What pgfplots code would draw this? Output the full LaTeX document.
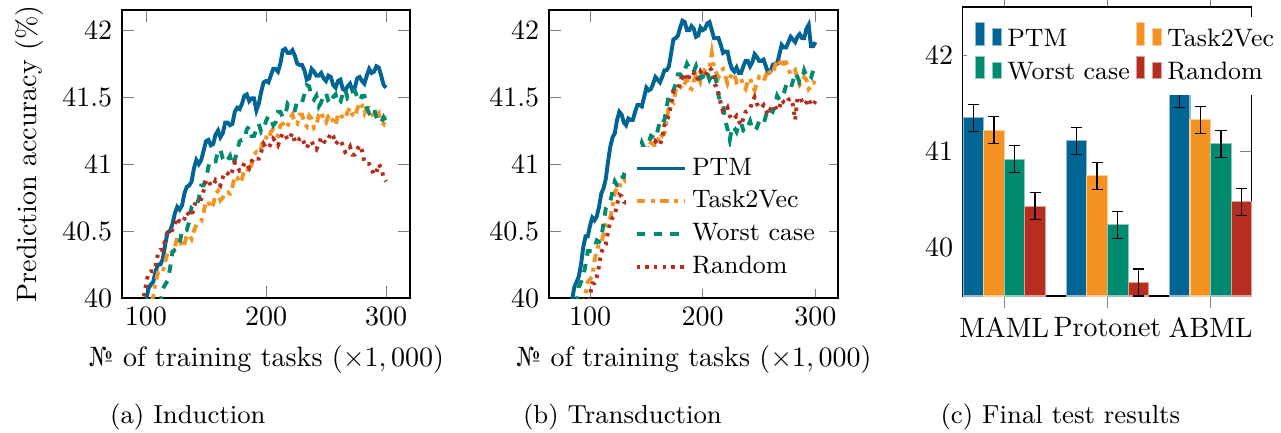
\documentclass[border=0pt]{standalone}
\usepackage{fontspec}
\usepackage{pgfplots}
\pgfplotsset{compat=1.18}

\definecolor{cPTM}{RGB}{0,101,148}
\definecolor{cTV}{RGB}{244,147,33}
\definecolor{cWorst}{RGB}{0,138,112}
\definecolor{cRand}{RGB}{182,46,31}

\pgfplotsset{
  curveax/.style={
    scale only axis, anchor=south west,
    width=103pt, height=102.86pt,
    ymin=40, ymax=42.15, xmax=320,
    ytick={40,40.5,41,41.5,42}, xtick={100,200,300},
    major tick style={gray},
    xlabel={№ of training tasks ($\times 1,000$)},
  },
  ptm/.style={cPTM, line width=1.4pt, solid, mark=none},
  tv/.style={cTV, line width=1.4pt, dashdotted, mark=none},
  worst/.style={cWorst, line width=1.4pt, dashed, mark=none},
  rand/.style={cRand, line width=1.4pt, dash pattern=on 1.2pt off 1.9pt, mark=none},
}

\begin{document}
\begin{tikzpicture}

% (a) Induction
\begin{axis}[curveax, at={(43.57pt,47.85pt)}, width=102.86pt, xmin=80,
  ylabel={Prediction accuracy (\%)}]
\addplot[ptm] coordinates {
(100,39.97) (102,40.07) (104,40.10) (106,40.12) (108,40.20) (110,40.25) (112,40.25)
(114,40.29) (116,40.40) (118,40.49) (120,40.50) (122,40.55) (124,40.63) (126,40.68)
(128,40.66) (130,40.69) (132,40.78) (134,40.83) (136,40.84) (138,40.87) (140,40.97)
(142,41.03) (144,41.00) (146,41.03) (148,41.10) (150,41.17) (152,41.18) (154,41.14)
(156,41.15) (158,41.22) (160,41.25) (162,41.20) (164,41.23) (166,41.31) (168,41.31)
(170,41.29) (172,41.30) (174,41.39) (176,41.42) (178,41.41) (180,41.45) (182,41.51)
(184,41.52) (186,41.47) (188,41.49) (190,41.49) (192,41.40) (194,41.45) (196,41.54)
(198,41.61) (200,41.62) (202,41.61) (204,41.66) (206,41.71) (208,41.71) (210,41.69)
(212,41.75) (214,41.85) (216,41.86) (218,41.83) (220,41.83) (222,41.85) (224,41.81)
(226,41.75) (228,41.74) (230,41.74) (232,41.70) (234,41.63) (236,41.64) (238,41.71)
(240,41.69) (242,41.66) (244,41.66) (246,41.68) (248,41.64) (250,41.62) (252,41.66)
(254,41.65) (256,41.59) (258,41.57) (260,41.62) (262,41.63) (264,41.56) (266,41.55)
(268,41.58) (270,41.60) (272,41.55) (274,41.57) (276,41.64) (278,41.65) (280,41.62)
(282,41.60) (284,41.66) (286,41.71) (288,41.68) (290,41.69) (292,41.73) (294,41.72)
(296,41.66) (298,41.59) (300,41.57)
};
\addplot[tv] coordinates {
(104,39.97) (106,40.01) (108,40.12) (110,40.19) (112,40.20) (114,40.19) (116,40.27)
(118,40.34) (120,40.36) (122,40.34) (124,40.38) (126,40.45) (128,40.44) (130,40.38)
(132,40.40) (134,40.47) (136,40.47) (138,40.44) (140,40.50) (142,40.55) (144,40.56)
(146,40.57) (148,40.64) (150,40.72) (152,40.72) (154,40.67) (156,40.70) (158,40.78)
(160,40.80) (162,40.73) (164,40.75) (166,40.79) (168,40.79) (170,40.78) (172,40.83)
(174,40.91) (176,40.90) (178,40.86) (180,40.89) (182,40.96) (184,40.97) (186,40.94)
(188,41.00) (190,41.07) (192,41.09) (194,41.08) (196,41.12) (198,41.20) (200,41.20)
(202,41.18) (204,41.24) (206,41.26) (208,41.22) (210,41.21) (212,41.29) (214,41.30)
(216,41.27) (218,41.28) (220,41.34) (222,41.37) (224,41.31) (226,41.30) (228,41.37)
(230,41.37) (232,41.30) (234,41.28) (236,41.36) (238,41.34) (240,41.27) (242,41.29)
(244,41.37) (246,41.39) (248,41.33) (250,41.31) (252,41.36) (254,41.37) (256,41.31)
(258,41.29) (260,41.37) (262,41.38) (264,41.34) (266,41.34) (268,41.39) (270,41.42)
(272,41.37) (274,41.35) (276,41.41) (278,41.46) (280,41.44) (282,41.38) (284,41.42)
(286,41.42) (288,41.38) (290,41.34) (292,41.36) (294,41.38) (296,41.32) (298,41.30)
(300,41.36)
};
\addplot[worst] coordinates {
(112,39.95) (114,40.07) (116,40.10) (118,40.13) (120,40.22) (122,40.34) (124,40.36)
(126,40.37) (128,40.41) (130,40.50) (132,40.52) (134,40.51) (136,40.57) (138,40.68)
(140,40.70) (142,40.69) (144,40.74) (146,40.84) (148,40.84) (150,40.89) (152,40.98)
(154,41.03) (156,41.02) (158,41.02) (160,41.10) (162,41.11) (164,41.04) (166,41.01)
(168,41.03) (170,41.06) (172,40.99) (174,41.03) (176,41.10) (178,41.17) (180,41.18)
(182,41.18) (184,41.26) (186,41.28) (188,41.21) (190,41.21) (192,41.26) (194,41.30)
(196,41.24) (198,41.26) (200,41.32) (202,41.36) (204,41.34) (206,41.29) (208,41.31)
(210,41.39) (212,41.39) (214,41.35) (216,41.36) (218,41.45) (220,41.43) (222,41.40)
(224,41.40) (226,41.47) (228,41.47) (230,41.46) (232,41.52) (234,41.59) (236,41.58)
(238,41.50) (240,41.48) (242,41.51) (244,41.43) (246,41.46) (248,41.52) (250,41.53)
(252,41.47) (254,41.45) (256,41.50) (258,41.52) (260,41.45) (262,41.46) (264,41.53)
(266,41.56) (268,41.49) (270,41.50) (272,41.54) (274,41.55) (276,41.50) (278,41.47)
(280,41.51) (282,41.51) (284,41.42) (286,41.38) (288,41.39) (290,41.42) (292,41.35)
(294,41.31) (296,41.31) (298,41.35) (300,41.32)
};
\addplot[rand] coordinates {
(96,39.95) (98,40.00) (100,40.10) (102,40.19) (104,40.20) (106,40.20) (108,40.24)
(110,40.33) (112,40.36) (114,40.36) (116,40.44) (118,40.50) (120,40.52) (122,40.51)
(124,40.55) (126,40.60) (128,40.57) (130,40.56) (132,40.59) (134,40.64) (136,40.62)
(138,40.61) (140,40.68) (142,40.73) (144,40.74) (146,40.74) (148,40.80) (150,40.88)
(152,40.88) (154,40.84) (156,40.84) (158,40.88) (160,40.86) (162,40.84) (164,40.90)
(166,40.94) (168,40.93) (170,40.91) (172,40.95) (174,41.01) (176,40.98) (178,40.95)
(180,40.96) (182,41.01) (184,41.00) (186,40.97) (188,41.02) (190,41.05) (192,41.04)
(194,41.04) (196,41.09) (198,41.15) (200,41.12) (202,41.12) (204,41.15) (206,41.19)
(208,41.17) (210,41.14) (212,41.19) (214,41.23) (216,41.22) (218,41.18) (220,41.20)
(222,41.23) (224,41.17) (226,41.16) (228,41.19) (230,41.20) (232,41.15) (234,41.12)
(236,41.16) (238,41.17) (240,41.13) (242,41.11) (244,41.15) (246,41.20) (248,41.17)
(250,41.16) (252,41.19) (254,41.23) (256,41.21) (258,41.15) (260,41.17) (262,41.18)
(264,41.14) (266,41.09) (268,41.10) (270,41.13) (272,41.07) (274,41.07) (276,41.11)
(278,41.14) (280,41.10) (282,41.01) (284,41.00) (286,41.00) (288,40.96) (290,40.92)
(292,40.94) (294,41.00) (296,40.97) (298,40.90) (300,40.87)
};
\end{axis}

% (b) Transduction
\begin{axis}[curveax, at={(196.07pt,47.85pt)}, width=103.21pt, xmin=63.6,
  legend cell align=left,
  legend style={at={(0.97,0.03)}, anchor=south east, draw=none, fill=white, font=\small}]
\addplot[ptm] coordinates {
(84,39.98) (86,40.08) (88,40.12) (90,40.16) (92,40.25) (94,40.38) (96,40.46)
(98,40.46) (100,40.54) (102,40.60) (104,40.58) (106,40.61) (108,40.68) (110,40.78)
(112,40.82) (114,40.89) (116,41.02) (118,41.13) (120,41.20) (122,41.23) (124,41.33)
(126,41.39) (128,41.37) (130,41.31) (132,41.29) (134,41.34) (136,41.33) (138,41.33)
(140,41.39) (142,41.44) (144,41.44) (146,41.43) (148,41.50) (150,41.57) (152,41.55)
(154,41.56) (156,41.60) (158,41.65) (160,41.63) (162,41.61) (164,41.65) (166,41.70)
(168,41.70) (170,41.73) (172,41.83) (174,41.93) (176,41.94) (178,41.96) (180,42.02)
(182,42.07) (184,42.06) (186,42.00) (188,42.00) (190,42.03) (192,42.01) (194,41.95)
(196,41.96) (198,42.02) (200,42.00) (202,42.01) (204,42.05) (206,42.06) (208,42.00)
(210,41.94) (212,41.94) (214,41.94) (216,41.89) (218,41.83) (220,41.84) (222,41.84)
(224,41.76) (226,41.71) (228,41.69) (230,41.72) (232,41.68) (234,41.68) (236,41.73)
(238,41.77) (240,41.77) (242,41.73) (244,41.76) (246,41.82) (248,41.80) (250,41.77)
(252,41.77) (254,41.78) (256,41.73) (258,41.68) (260,41.69) (262,41.74) (264,41.75)
(266,41.75) (268,41.82) (270,41.89) (272,41.87) (274,41.87) (276,41.91) (278,41.95)
(280,41.93) (282,41.91) (284,41.95) (286,41.97) (288,41.94) (290,41.94) (292,42.01)
(294,42.04) (296,41.88) (298,41.88) (300,41.91)
};
\addplot[tv] coordinates {
(92,39.95) (94,39.95) (96,40.03) (98,40.12) (100,40.14) (102,40.16) (104,40.28)
(106,40.36) (108,40.40) (110,40.41) (112,40.48) (114,40.57) (116,40.58) (118,40.60)
(120,40.69) (122,40.79) (124,40.82) (126,40.81) (128,40.90) (130,40.90) (132,40.86)
(134,40.86) (136,40.91) (138,41.00) (140,41.00) (142,40.99) (144,41.06) (146,41.12)
(148,41.12) (150,41.08) (152,41.13) (154,41.16) (156,41.15) (158,41.13) (160,41.17)
(162,41.23) (164,41.21) (166,41.23) (168,41.33) (170,41.43) (172,41.47) (174,41.46)
(176,41.55) (178,41.59) (180,41.58) (182,41.56) (184,41.60) (186,41.63) (188,41.57)
(190,41.56) (192,41.62) (194,41.67) (196,41.65) (198,41.61) (200,41.66) (202,41.71)
(204,41.72) (206,41.72) (208,41.83) (210,41.72) (212,41.68) (214,41.65) (216,41.70)
(218,41.71) (220,41.66) (222,41.60) (224,41.64) (226,41.68) (228,41.67) (230,41.61)
(232,41.62) (234,41.64) (236,41.58) (238,41.56) (240,41.62) (242,41.64) (244,41.59)
(246,41.55) (248,41.61) (250,41.65) (252,41.64) (254,41.62) (256,41.66) (258,41.71)
(260,41.68) (262,41.67) (264,41.73) (266,41.78) (268,41.77) (270,41.72) (272,41.76)
(274,41.76) (276,41.71) (278,41.67) (280,41.68) (282,41.70) (284,41.64) (286,41.59)
(288,41.61) (290,41.65) (292,41.63) (294,41.56) (296,41.58) (298,41.61) (300,41.60)
};
\addplot[worst] coordinates {
(88,39.95) (90,40.08) (92,40.12) (94,40.16) (96,40.25) (98,40.35) (100,40.35)
(102,40.35) (104,40.38) (106,40.43) (108,40.42) (110,40.45) (112,40.56) (114,40.67)
(116,40.70) (118,40.72) (120,40.80) (122,40.87) (124,40.84) (126,40.84) (128,40.87)
(130,40.92) (132,40.91) (134,40.89) (136,40.95) (138,41.03) (140,41.03) (142,41.04)
(144,41.10) (146,41.16) (148,41.12) (150,41.12) (152,41.16) (154,41.21) (156,41.20)
(158,41.19) (160,41.25) (162,41.32) (164,41.30) (166,41.33) (168,41.42) (170,41.53)
(172,41.53) (174,41.55) (176,41.60) (178,41.67) (180,41.67) (182,41.65) (184,41.70)
(186,41.75) (188,41.72) (190,41.68) (192,41.69) (194,41.73) (196,41.67) (198,41.64)
(200,41.65) (202,41.70) (204,41.68) (206,41.63) (208,41.66) (210,41.68) (212,41.62)
(214,41.51) (216,41.45) (218,41.44) (220,41.33) (222,41.26) (224,41.18) (226,41.28)
(228,41.27) (230,41.24) (232,41.29) (234,41.31) (236,41.25) (238,41.24) (240,41.28)
(242,41.32) (244,41.26) (246,41.25) (248,41.27) (250,41.32) (252,41.32) (254,41.30)
(256,41.36) (258,41.42) (260,41.40) (262,41.39) (264,41.44) (266,41.51) (268,41.48)
(270,41.49) (272,41.53) (274,41.59) (276,41.58) (278,41.56) (280,41.62) (282,41.68)
(284,41.65) (286,41.61) (288,41.63) (290,41.70) (292,41.66) (294,41.63) (296,41.64)
(298,41.70) (300,41.70)
};
\addplot[rand] coordinates {
(96,39.92) (98,39.94) (100,40.02) (102,40.11) (104,40.11) (106,40.16) (108,40.24)
(110,40.34) (112,40.38) (114,40.40) (116,40.50) (118,40.57) (120,40.60) (122,40.62)
(124,40.70) (126,40.77) (128,40.76) (130,40.72) (132,40.71) (134,40.77) (136,40.76)
(138,40.78) (140,40.87) (142,40.96) (144,41.00) (146,41.02) (148,41.09) (150,41.14)
(152,41.10) (154,41.09) (156,41.12) (158,41.17) (160,41.15) (162,41.14) (164,41.20)
(166,41.29) (168,41.33) (170,41.36) (172,41.45) (174,41.54) (176,41.55) (178,41.56)
(180,41.61) (182,41.67) (184,41.67) (186,41.62) (188,41.65) (190,41.69) (192,41.68)
(194,41.63) (196,41.64) (198,41.69) (200,41.66) (202,41.66) (204,41.69) (206,41.72)
(208,41.70) (210,41.60) (212,41.58) (214,41.53) (216,41.45) (218,41.39) (220,41.39)
(222,41.42) (224,41.36) (226,41.33) (228,41.34) (230,41.36) (232,41.32) (234,41.29)
(236,41.34) (238,41.39) (240,41.40) (242,41.41) (244,41.47) (246,41.50) (248,41.45)
(250,41.42) (252,41.42) (254,41.44) (256,41.40) (258,41.37) (260,41.41) (262,41.44)
(264,41.43) (266,41.40) (268,41.42) (270,41.48) (272,41.46) (274,41.45) (276,41.48)
(278,41.49) (280,41.44) (282,41.33) (284,41.49) (286,41.50) (288,41.47) (290,41.44)
(292,41.46) (294,41.49) (296,41.44) (298,41.44) (300,41.47)
};
\legend{PTM,Task2Vec,Worst case,Random}
\end{axis}

% (c) Final test results
\begin{axis}[at={(343.9pt,48.57pt)}, anchor=south west, scale only axis,
  width=103.21pt, height=103.21pt,
  ybar=0pt, bar width=7.37pt,
  xmin=-0.4, xmax=2.4, ymin=39.5, ymax=42.5,
  xtick={0,1,2}, xticklabels={MAML,Protonet,ABML}, ytick={40,41,42},
  xtick align=outside,
  major tick style={gray},
  legend columns=2, legend cell align=left,
  legend style={at={(0.012,0.969)}, anchor=north west, draw=none, fill=white,
    font=\small, /tikz/every even column/.append style={column sep=0pt}},
  error bars/y dir=both, error bars/y explicit,
  error bars/error bar style={black, line width=0.5pt},
]
\addplot[fill=cPTM, draw=cPTM!45!white] coordinates {
(0,41.35) +- (0,0.14) (1,41.11) +- (0,0.14) (2,41.59) +- (0,0.13)};
\addplot[fill=cTV, draw=cTV!45!white] coordinates {
(0,41.22) +- (0,0.14) (1,40.75) +- (0,0.14) (2,41.33) +- (0,0.14)};
\addplot[fill=cWorst, draw=cWorst!45!white] coordinates {
(0,40.92) +- (0,0.14) (1,40.24) +- (0,0.14) (2,41.08) +- (0,0.14)};
\addplot[fill=cRand, draw=cRand!45!white] coordinates {
(0,40.43) +- (0,0.14) (1,39.64) +- (0,0.14) (2,40.48) +- (0,0.14)};
\legend{PTM,Task2Vec,Worst case,Random}
\end{axis}

\node[anchor=base, font=\fontsize{9.3}{11}\selectfont] at (67.1pt,3.04pt) {(a) Induction};
\node[anchor=base, font=\fontsize{9.3}{11}\selectfont] at (222.3pt,3.04pt) {(b) Transduction};
\node[anchor=base, font=\fontsize{9.3}{11}\selectfont] at (378.7pt,3.04pt) {(c) Final test results};

\pgfresetboundingbox
\path[use as bounding box] (0,0) rectangle (457.5pt,154.29pt);
\end{tikzpicture}
\end{document}
